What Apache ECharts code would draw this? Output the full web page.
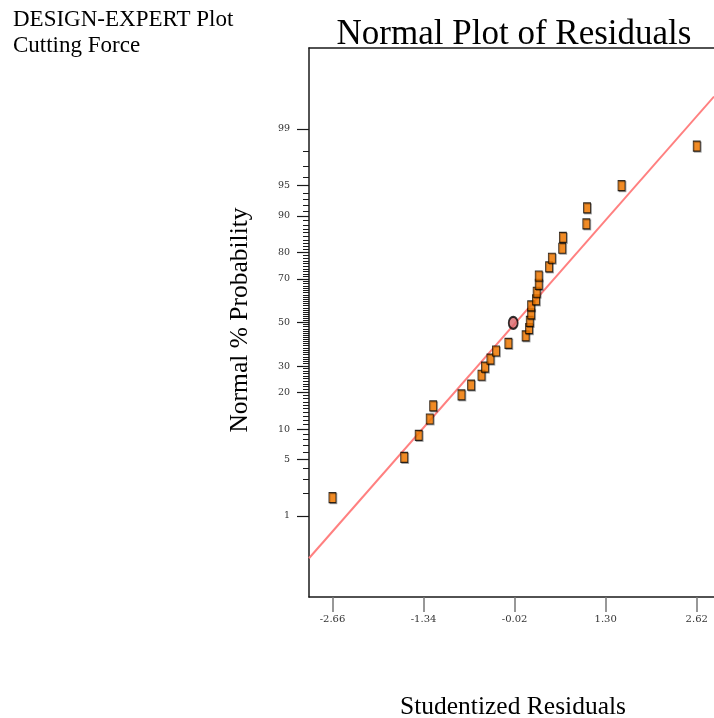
<!DOCTYPE html>
<html>
<head>
<meta charset="utf-8">
<script src="https://cdn.jsdelivr.net/npm/echarts@6/dist/echarts.min.js"></script>
<style>
  html, body { margin: 0; padding: 0; background: #fff; }
  #chart { width: 714px; height: 718px; }
</style>
</head>
<body>
<div id="chart"></div>
<script>
// Studentized residuals and their normal probability (%), square markers
const residuals = [-2.66, -1.62, -1.41, -1.25, -1.20, -0.79, -0.65, -0.50, -0.45, -0.37,
                   -0.29, -0.11, 0.14, 0.19, 0.20, 0.22, 0.22, 0.29, 0.30, 0.33,
                   0.33, 0.48, 0.52, 0.67, 0.68, 1.02, 1.03, 1.53, 2.62];
const probabilities = [1.76, 5.25, 8.75, 12.3, 15.8, 19.2, 22.6, 26.3, 29.6, 33.0,
                       36.6, 40.1, 43.6, 47.1, 50.5, 54.1, 57.9, 60.7, 64.2, 67.7,
                       71.2, 74.8, 78.0, 81.4, 84.7, 88.2, 91.6, 95.0, 98.3];

// Highlighted run (circle marker)
const flaggedResidual = [-0.04];
const flaggedProbability = [49.8];

// Reference line, two end points
const fitResidual = [-3.0, 2.87];
const fitProbability = [0.23, 99.67];

// Axis ticks
const xTickValues = [-2.66, -1.34, -0.02, 1.30, 2.62];
const yTickPercents = [1, 5, 10, 20, 30, 50, 70, 80, 90, 95, 99];

// Inverse standard normal CDF (Acklam's approximation)
function probit(p) {
  const a = [-3.969683028665376e+01, 2.209460984245205e+02, -2.759285104469687e+02,
             1.383577518672690e+02, -3.066479806614716e+01, 2.506628277459239e+00];
  const b = [-5.447609879822406e+01, 1.615858368580409e+02, -1.556989798598866e+02,
             6.680131188771972e+01, -1.328068155288572e+01];
  const c = [-7.784894002430293e-03, -3.223964580411365e-01, -2.400758277161838e+00,
             -2.549671010243764e+00, 4.374664141464968e+00, 2.938163982698783e+00];
  const d = [7.784695709041462e-03, 3.224671290700398e-01, 2.445134137142996e+00,
             3.754408661907416e+00];
  const pl = 0.02425, ph = 1 - pl;
  let q, r;
  if (p < pl) {
    q = Math.sqrt(-2 * Math.log(p));
    return (((((c[0]*q+c[1])*q+c[2])*q+c[3])*q+c[4])*q+c[5]) /
           ((((d[0]*q+d[1])*q+d[2])*q+d[3])*q+1);
  }
  if (p <= ph) {
    q = p - 0.5; r = q * q;
    return (((((a[0]*r+a[1])*r+a[2])*r+a[3])*r+a[4])*r+a[5])*q /
           (((((b[0]*r+b[1])*r+b[2])*r+b[3])*r+b[4])*r+1);
  }
  q = Math.sqrt(-2 * Math.log(1 - p));
  return -(((((c[0]*q+c[1])*q+c[2])*q+c[3])*q+c[4])*q+c[5]) /
          ((((d[0]*q+d[1])*q+d[2])*q+d[3])*q+1);
}
const score = pct => probit(pct / 100);

// Probability scale: the y axis runs in normal scores
const majorScores = yTickPercents.map(score);
const minorScores = [];
for (let k = 1; k <= 99; k++) minorScores.push(score(k));

function percentLabel(v) {
  let best = 0;
  majorScores.forEach((s, i) => {
    if (Math.abs(s - v) < Math.abs(majorScores[best] - v)) best = i;
  });
  return String(yTickPercents[best]);
}

const squarePoints = residuals.map((r, i) => [r, score(probabilities[i])]);
const flaggedPoints = flaggedResidual.map((r, i) => [r, score(flaggedProbability[i])]);
const fitPoints = fitResidual.map((r, i) => [r, score(fitProbability[i])]);

const serif = '"Liberation Serif", "Times New Roman", serif';
const axisBlack = '#1a1a1a';

const chart = echarts.init(document.getElementById('chart'), null, { renderer: 'canvas' });
chart.setOption({
  animation: false,
  backgroundColor: '#fff',
  grid: { left: 309, top: 48, right: 0, bottom: 121, containLabel: false, outerBoundsMode: 'none' },
  xAxis: [
    {
      type: 'value', position: 'bottom', min: -3.0, max: 2.87,
      axisLine: { show: true, onZero: false, lineStyle: { color: axisBlack, width: 1.5 } },
      axisTick: { show: true, customValues: xTickValues, length: 15, inside: false,
                  lineStyle: { color: '#777', width: 1.5 } },
      axisLabel: { show: true, customValues: xTickValues, margin: 17,
                   formatter: v => v.toFixed(2),
                   fontFamily: '"DejaVu Serif", serif', fontSize: 10, color: '#333' },
      splitLine: { show: false }
    },
    {
      type: 'value', position: 'top', min: -3.0, max: 2.87,
      axisLine: { show: true, onZero: false, lineStyle: { color: axisBlack, width: 1.5 } },
      axisTick: { show: false }, axisLabel: { show: false }, splitLine: { show: false }
    }
  ],
  yAxis: [
    {
      type: 'value', position: 'left', min: -3.3, max: 3.3,
      axisLine: { show: true, onZero: false, lineStyle: { color: axisBlack, width: 1.5 } },
      axisTick: { show: true, customValues: majorScores, length: 12,
                  lineStyle: { color: axisBlack, width: 1.2 } },
      axisLabel: { show: true, customValues: majorScores, margin: 19,
                   formatter: v => percentLabel(v),
                   fontFamily: '"DejaVu Serif", serif', fontSize: 9.5, color: '#333' },
      splitLine: { show: false }
    },
    {
      type: 'value', position: 'left', min: -3.3, max: 3.3,
      axisLine: { show: false, onZero: false },
      axisTick: { show: true, customValues: minorScores, length: 6,
                  lineStyle: { color: axisBlack, width: 1 } },
      axisLabel: { show: false },
      splitLine: { show: false }
    }
  ],
  series: [
    {
      type: 'line', xAxisIndex: 0, yAxisIndex: 0, data: fitPoints,
      showSymbol: false, symbol: 'none', clip: true, silent: true, z: 1,
      lineStyle: { color: '#ff8080', width: 2 }
    },
    {
      type: 'scatter', xAxisIndex: 0, yAxisIndex: 0, data: squarePoints,
      symbol: 'rect', symbolSize: [7, 10], z: 3,
      itemStyle: { color: '#ff8000', borderColor: '#000', borderWidth: 1,
                   shadowColor: 'rgba(0,0,0,0.35)', shadowOffsetX: 1, shadowOffsetY: 1, shadowBlur: 0 }
    },
    {
      type: 'scatter', xAxisIndex: 0, yAxisIndex: 0, data: flaggedPoints,
      symbol: 'path://M-1,0A1,1,0,1,0,1,0A1,1,0,1,0,-1,0Z', symbolSize: [9, 12], z: 4,
      itemStyle: { color: '#d9666a', borderColor: '#000', borderWidth: 2 }
    }
  ],
  graphic: [
    { type: 'text', x: 13, y: 20,
      style: { text: 'DESIGN-EXPERT Plot', font: '23px ' + serif, fill: '#000',
               textAlign: 'left', textVerticalAlign: 'middle' } },
    { type: 'text', x: 13, y: 46,
      style: { text: 'Cutting Force', font: '23px ' + serif, fill: '#000',
               textAlign: 'left', textVerticalAlign: 'middle' } },
    { type: 'text', x: 514, y: 35,
      style: { text: 'Normal Plot of Residuals', font: '35px ' + serif, fill: '#000',
               textAlign: 'center', textVerticalAlign: 'middle' } },
    { type: 'text', x: 240, y: 320, rotation: Math.PI / 2,
      style: { text: 'Normal % Probability', font: '25.5px ' + serif, fill: '#000',
               textAlign: 'center', textVerticalAlign: 'middle' } },
    { type: 'text', x: 513, y: 707,
      style: { text: 'Studentized Residuals', font: '25.5px ' + serif, fill: '#000',
               textAlign: 'center', textVerticalAlign: 'middle' } }
  ]
});
</script>
</body>
</html>
